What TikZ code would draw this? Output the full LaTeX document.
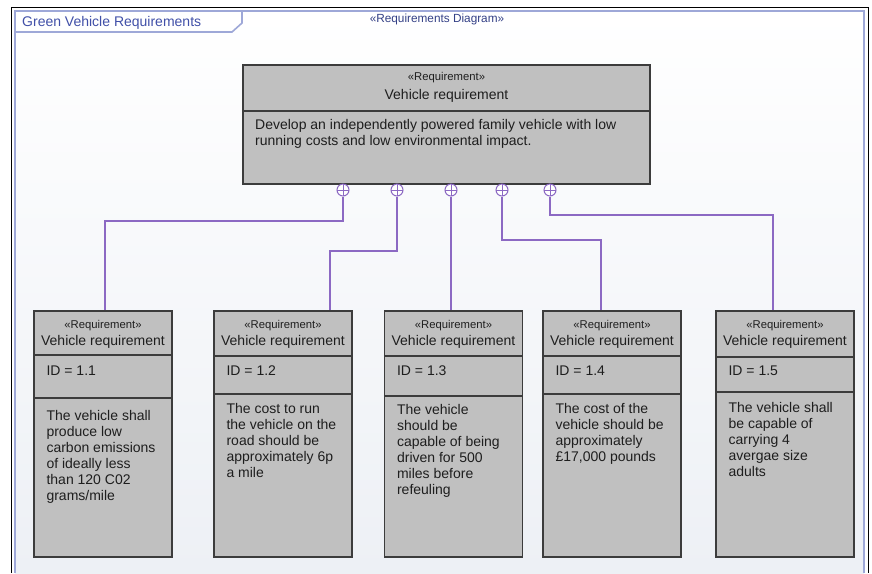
\documentclass[tikz,border=0pt]{standalone}
\usepackage{fontspec}
\setmainfont{Liberation Sans}
\definecolor{frameblue}{RGB}{158,168,216}
\definecolor{titleblue}{RGB}{64,80,168}
\definecolor{boxgrey}{RGB}{192,192,192}
\definecolor{boxline}{RGB}{60,60,60}
\definecolor{linkpurple}{RGB}{140,105,195}
\definecolor{bgbottom}{RGB}{237,240,245}
\definecolor{inktext}{RGB}{30,30,30}
\begin{document}
\begin{tikzpicture}[x=1pt,y=-1pt,
  reqbox/.style={draw=boxline, line width=1.3pt, fill=boxgrey, rectangle, inner sep=0pt},
  divider/.style={draw=boxline, line width=1.1pt},
  stereo/.style={font=\fontsize{11.3}{13}\selectfont, text=inktext, inner sep=0pt, anchor=base},
  reqname/.style={font=\fontsize{14}{16}\selectfont, text=inktext, inner sep=0pt, anchor=base},
  % multi-line nodes take the baseline of their last line as base
  bodytext/.style={font=\fontsize{14}{16}\selectfont, text=inktext, inner sep=0pt, anchor=base west, align=left},
  plusnode/.style={circle, draw=linkpurple, fill=white, line width=1pt, minimum size=12pt, inner sep=0pt,
    path picture={\draw[linkpurple, line width=1pt]
      (path picture bounding box.north) -- (path picture bounding box.south)
      (path picture bounding box.west) -- (path picture bounding box.east);}},
  link/.style={draw=linkpurple, line width=1.2pt}]

\useasboundingbox (0,0) rectangle (872,573);
\fill[white] (0,0) rectangle (872,573);

% diagram frame with soft gradient
\shade[top color=white, bottom color=bgbottom] (15,11) rectangle (864,573);
\draw[black, line width=1pt] (11,573) -- (11,7) -- (868,7) -- (868,573);
\draw[frameblue, line width=2pt] (15,573) -- (15,11) -- (864,11) -- (864,573);

% frame tab
\draw[frameblue, line width=1.6pt] (15,32) -- (232,32) -- (242,23) -- (242,11);
\node[font=\fontsize{14}{16}\selectfont, text=titleblue, inner sep=0pt, anchor=base west] (title) at (22,26) {Green Vehicle Requirements};
\node[font=\fontsize{11.8}{13}\selectfont, text=titleblue!80!black, inner sep=0pt, anchor=base] (kind) at (437,22) {«Requirements Diagram»};

% parent requirement
\node[reqbox, minimum width=407pt, minimum height=119pt] (top) at (446.5,124.5) {};
\draw[divider] (top.west |- 0,111) -- (top.east |- 0,111);
\node[stereo] (tops) at (top.north |- 0,80) {«Requirement»};
\node[reqname] (topn) at (top.north |- 0,99) {Vehicle requirement};
\node[bodytext] (topb) at (255,145) {Develop an independently powered family vehicle with low\\running costs and low environmental impact.};

% child requirements: name, centre x, divider 1, divider 2, id, last text baseline, text
\newcommand\ChildReq[7]{%
  \node[reqbox, minimum width=138pt, minimum height=246pt] (#1) at (#2,434) {};
  \draw[divider] (#1.west |- 0,#3) -- (#1.east |- 0,#3);
  \draw[divider] (#1.west |- 0,#4) -- (#1.east |- 0,#4);
  \node[stereo] (#1s) at (#1.north |- 0,328) {«Requirement»};
  \node[reqname] (#1n) at (#1.north |- 0,345) {Vehicle requirement};
  \node[bodytext] (#1i) at ([xshift=13pt]#1.west |- 0,375) {ID = #5};
  \node[bodytext] (#1b) at ([xshift=13pt]#1.west |- 0,#6) {#7};
}
\ChildReq{r1}{103}{355}{398}{1.1}{500}{The vehicle shall\\produce low\\carbon emissions\\of ideally less\\than 120 C02\\grams/mile}
\ChildReq{r2}{283}{356}{394}{1.2}{477}{The cost to run\\the vehicle on the\\road should be\\approximately 6p\\a mile}
\ChildReq{r3}{453.5}{356}{396}{1.3}{494}{The vehicle\\should be\\capable of being\\driven for 500\\miles before\\refeuling}
\ChildReq{r4}{612}{356}{394}{1.4}{461}{The cost of the\\vehicle should be\\approximately\\£17,000 pounds}
\ChildReq{r5}{785}{357}{392}{1.5}{476}{The vehicle shall\\be capable of\\carrying 4\\avergae size\\adults}

% containment anchors on the parent
\node[plusnode] (p1) at (343,190) {};
\node[plusnode] (p2) at (397,190) {};
\node[plusnode] (p3) at (451,190) {};
\node[plusnode] (p4) at (502,190) {};
\node[plusnode] (p5) at (550,190) {};

% bends of the containment links
\coordinate (b1) at (105,221);
\coordinate (b2) at (330,251);
\coordinate (b4) at (601,240);
\coordinate (b5) at (773,215);

\draw[link] (p1.south) |- (b1) -- (b1 |- r1.north);
\draw[link] (p2.south) |- (b2) -- (b2 |- r2.north);
\draw[link] (p3.south) -- (p3.south |- r3.north);
\draw[link] (p4.south) |- (b4) -- (b4 |- r4.north);
\draw[link] (p5.south) |- (b5) -- (b5 |- r5.north);
\end{tikzpicture}
\end{document}
